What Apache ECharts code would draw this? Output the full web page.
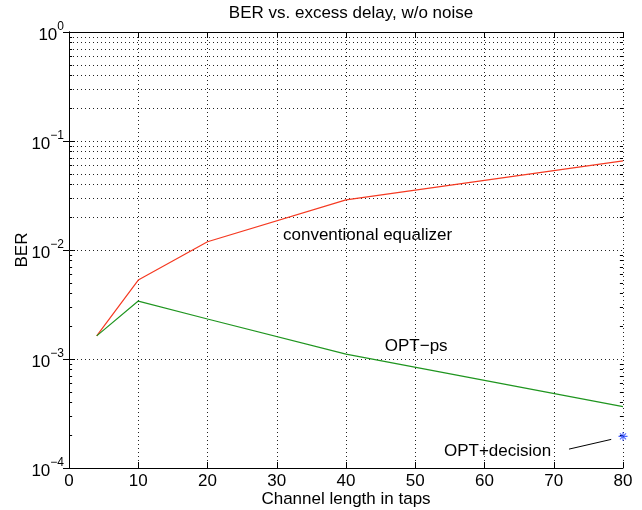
<!DOCTYPE html>
<html>
<head>
<meta charset="utf-8">
<script src="https://cdn.jsdelivr.net/npm/echarts@6/dist/echarts.min.js"></script>
<style>
html,body{margin:0;padding:0;background:#fff;}
#chart{width:642px;height:510px;}
</style>
</head>
<body>
<div id="chart"></div>
<script>
// ---- data ----
const xTaps = [4, 10, 20, 40, 80];
const berConventional = [1.63e-3, 5.3e-3, 0.0119, 0.0288, 0.0656];
const berOptPs = [1.63e-3, 3.40e-3, 2.33e-3, 1.11e-3, 3.65e-4];
const optDecisionX = [80];
const optDecisionBer = [1.95e-4];
const xTickMin = 0, xTickMax = 80, xTickStep = 10;
const yMin = 1e-4, yMax = 1;
const minorGridValues = [
  2e-4,3e-4,4e-4,5e-4,6e-4,7e-4,8e-4,9e-4,
  2e-3,3e-3,4e-3,5e-3,6e-3,7e-3,8e-3,9e-3,
  2e-2,3e-2,4e-2,5e-2,6e-2,7e-2,8e-2,9e-2,
  2e-1,3e-1,4e-1,5e-1,6e-1,7e-1,8e-1,9e-1
];
const annotations = [
  {text: 'conventional equalizer', x: 30.9, y: 0.01373},
  {text: 'OPT\u2212ps', x: 45.6, y: 1.315e-3},
  {text: 'OPT+decision', x: 54.15, y: 1.43e-4}
];
const pointerLine = [[72.2, 1.49e-4], [78.3, 1.83e-4]];

// ---- chart ----
const FONT = 'Liberation Sans, Arial, Helvetica, sans-serif';
const chart = echarts.init(document.getElementById('chart'));
const pair = (xs, ys) => xs.map((x, i) => [x, ys[i]]);
const supFmt = v => {
  const e = Math.round(Math.log10(v));
  const es = e < 0 ? '\u2212' + (-e) : String(e);
  return '{b|10}{e|' + es + '}';
};
const dotStyle = {color: '#222', width: 1, type: [1, 3]};
const gridDot = {show: true, lineStyle: dotStyle};
const star = 'path://M4.4,0H5.6V10H4.4Z M0,4.4H10V5.6H0Z M1.2,2.0L2.0,1.2L8.8,8.0L8.0,8.8Z M8.0,1.2L8.8,2.0L2.0,8.8L1.2,8.0Z';

const minorLines = minorGridValues.map(v => ({yAxis: v}));
const minorTicks = [];
minorGridValues.forEach(v => {
  minorTicks.push([{coord: [xTickMin, v]}, {coord: [xTickMin + 0.45, v]}]);
  minorTicks.push([{coord: [xTickMax - 0.45, v]}, {coord: [xTickMax, v]}]);
});

const option = {
  backgroundColor: '#fff',
  animation: false,
  title: {
    text: 'BER vs. excess delay, w/o noise',
    left: 346, top: 0, textAlign: 'center',
    textStyle: {fontFamily: FONT, fontSize: 17, fontWeight: 'normal', color: '#000'}
  },
  grid: {left: 69, right: 19, top: 32, bottom: 42, containLabel: false, outerBoundsMode: 'none'},
  xAxis: [{
    type: 'value', min: xTickMin, max: xTickMax, interval: xTickStep,
    name: 'Channel length in taps', nameLocation: 'middle', nameGap: 23, nameMoveOverlap: false,
    nameTextStyle: {fontFamily: FONT, fontSize: 17, color: '#000'},
    axisLine: {show: true, lineStyle: {color: '#000', width: 1}},
    axisTick: {show: true, inside: true, length: 6, lineStyle: {color: '#000'}},
    axisLabel: {fontFamily: FONT, fontSize: 17, color: '#000', margin: 5},
    splitLine: gridDot
  }, {
    type: 'value', min: xTickMin, max: xTickMax, interval: xTickStep, position: 'top',
    axisLine: {show: true, lineStyle: {color: '#000', width: 1}},
    axisTick: {show: true, inside: true, length: 6, lineStyle: {color: '#000'}},
    axisLabel: {show: false}, splitLine: {show: false}
  }],
  yAxis: [{
    type: 'log', logBase: 10, min: yMin, max: yMax, interval: 1,
    name: 'BER', nameLocation: 'middle', nameGap: 38, nameRotate: 90, nameMoveOverlap: false,
    nameTextStyle: {fontFamily: FONT, fontSize: 17, color: '#000'},
    axisLine: {show: true, lineStyle: {color: '#000', width: 1}},
    axisTick: {show: true, inside: true, length: 6, lineStyle: {color: '#000'}},
    axisLabel: {
      formatter: supFmt, margin: 5,
      rich: {
        b: {fontFamily: FONT, fontSize: 17, color: '#000', padding: [6, 0, 0, 0]},
        e: {fontFamily: FONT, fontSize: 12, color: '#000', verticalAlign: 'top'}
      }
    },
    splitLine: gridDot
  }, {
    type: 'log', logBase: 10, min: yMin, max: yMax, interval: 1, position: 'right',
    axisLine: {show: true, lineStyle: {color: '#000', width: 1}},
    axisTick: {show: true, inside: true, length: 6, lineStyle: {color: '#000'}},
    axisLabel: {show: false}, splitLine: {show: false}
  }],
  series: [
    {
      name: 'grid-minor', type: 'line', data: [], silent: true,
      markLine: {
        silent: true, symbol: ['none', 'none'], label: {show: false},
        lineStyle: dotStyle, emphasis: {disabled: true},
        data: minorLines
      }
    },
    {
      name: 'minor-ticks', type: 'line', data: [], silent: true,
      markLine: {
        silent: true, symbol: ['none', 'none'], label: {show: false},
        lineStyle: {color: '#000', width: 1, type: 'solid'},
        data: minorTicks
      }
    },
    {
      name: 'conventional equalizer', type: 'line', data: pair(xTaps, berConventional),
      symbol: 'none', lineStyle: {color: '#f53a22', width: 1.2}, z: 5
    },
    {
      name: 'OPT-ps', type: 'line', data: pair(xTaps, berOptPs),
      symbol: 'none', lineStyle: {color: '#1f951f', width: 1.2}, z: 5
    },
    {
      name: 'OPT+decision', type: 'scatter', data: pair(optDecisionX, optDecisionBer),
      symbol: star, symbolSize: 9, itemStyle: {color: '#2040ff'}, z: 6
    },
    {
      name: 'annotations', type: 'scatter', data: [], silent: true,
      markPoint: {
        symbol: 'circle', symbolSize: 0,
        label: {show: true, position: 'right', distance: 0, fontFamily: FONT, fontSize: 17, color: '#000',
                formatter: p => p.name},
        data: annotations.map(a => ({name: a.text, coord: [a.x, a.y]}))
      },
      markLine: {
        silent: true, symbol: ['none', 'none'], label: {show: false},
        lineStyle: {color: '#000', width: 1, type: 'solid'},
        data: [[{coord: pointerLine[0]}, {coord: pointerLine[1]}]]
      }
    }
  ]
};
chart.setOption(option);
</script>
</body>
</html>
